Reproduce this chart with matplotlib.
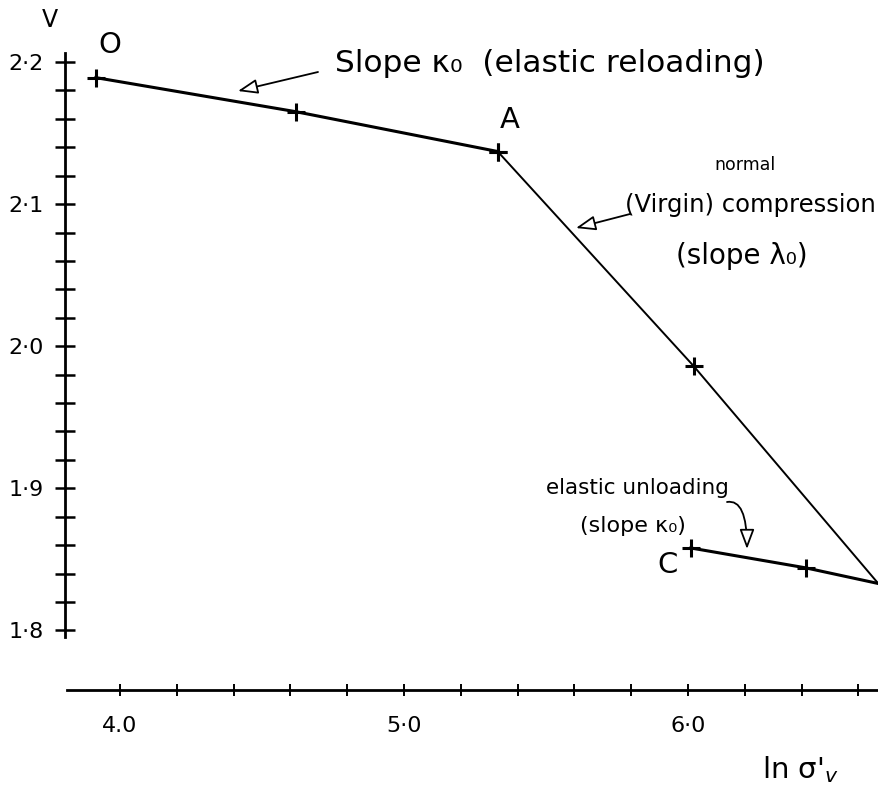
import matplotlib
matplotlib.use("Agg")
import matplotlib.pyplot as plt
import numpy as np

# ---- data ----
reload_x = [3.915, 4.62, 5.33]
reload_v = [2.189, 2.165, 2.137]
virgin_x = [5.33, 6.02, 6.67]
virgin_v = [2.137, 1.986, 1.833]
unload_x = [6.01, 6.415, 6.67]
unload_v = [1.858, 1.844, 1.833]

y_major = [1.8, 1.9, 2.0, 2.1, 2.2]
y_labels = ["1·8", "1·9", "2·0", "2·1", "2·2"]
x_major = [4.0, 5.0, 6.0]
x_labels = ["4.0", "5·0", "6·0"]

W, H = 879, 793
fig = plt.figure(figsize=(W / 100, H / 100), dpi=100)
ax = fig.add_axes([0, 0, 1, 1])

def X(px):
    return 4 + (px - 120) / 284.0

def Y(py):
    return 2.2 - (py - 62) / 1421.0

ax.set_xlim(X(0), X(W))
ax.set_ylim(Y(H), Y(0))

# axes as spines
for s in ["top", "right"]:
    ax.spines[s].set_visible(False)
ax.spines["left"].set_position(("data", X(65)))
ax.spines["left"].set_bounds(Y(637), Y(53))
ax.spines["bottom"].set_position(("data", Y(690)))
ax.spines["bottom"].set_bounds(X(67), X(879))
for s in ["left", "bottom"]:
    ax.spines[s].set_linewidth(2.0)

ax.set_yticks(y_major)
ax.set_yticklabels(y_labels)
ax.set_yticks(np.arange(1.8, 2.2001, 0.02), minor=True)
ax.set_xticks(x_major)
ax.set_xticklabels(x_labels)
ax.set_xticks(np.arange(4.0, 6.61, 0.2), minor=True)

ax.tick_params(axis="y", which="both", direction="inout", length=15, width=1.8,
               labelsize=16, pad=8)
ax.tick_params(axis="x", which="both", direction="inout", length=9, width=1.4,
               labelsize=16, pad=14)

# lines
ax.plot(reload_x, reload_v, color="black", lw=2.2, marker="+", ms=13, mew=2.2)
ax.plot(virgin_x, virgin_v, color="black", lw=1.4, marker="+", ms=13, mew=2.2,
        markevery=[0, 1])
ax.plot(unload_x, unload_v, color="black", lw=2.2, marker="+", ms=13, mew=2.2,
        markevery=[0, 1])

def P(px, py):
    return (px / W, 1 - py / H)

kw = dict(xycoords="figure fraction", color="black")
ax.annotate("V", P(50, 20), ha="center", va="center", fontsize=17, **kw)
ax.annotate("O", P(110, 45), ha="center", va="center", fontsize=21, **kw)
ax.annotate("A", P(510, 120), ha="center", va="center", fontsize=21, **kw)
ax.annotate("C", P(668, 565), ha="center", va="center", fontsize=21, **kw)

ax.annotate("Slope κ₀  (elastic reloading)", P(335, 63), ha="left", va="center",
            fontsize=22.5, **kw)
ax.annotate("normal", P(745, 165), ha="center", va="center", fontsize=12.5, **kw)
ax.annotate("(Virgin) compression", P(750, 205), ha="center", va="center",
            fontsize=17.5, **kw)
ax.annotate("(slope λ₀)", P(742, 256), ha="center", va="center", fontsize=20, **kw)
ax.annotate("elastic unloading", P(637, 488), ha="center", va="center",
            fontsize=15.5, **kw)
ax.annotate("(slope κ₀)", P(633, 526), ha="center", va="center", fontsize=16, **kw)
ax.annotate("ln σ$'_{v}$", P(800, 770), ha="center", va="center", fontsize=21, **kw)

aprops = dict(arrowstyle="-|>,head_length=1.2,head_width=0.45", color="black",
              fc="white", lw=1.3, shrinkA=0, shrinkB=0)
ax.annotate("", xy=P(238, 91), xytext=P(318, 72), xycoords="figure fraction",
            arrowprops=aprops)
ax.annotate("", xy=P(576, 228), xytext=P(630, 214), xycoords="figure fraction",
            arrowprops=aprops)
aprops2 = dict(aprops, connectionstyle="angle3,angleA=10,angleB=90")
ax.annotate("", xy=P(747, 549), xytext=P(727, 502), xycoords="figure fraction",
            arrowprops=aprops2)

fig.savefig("out.png", dpi=100, facecolor="white")
